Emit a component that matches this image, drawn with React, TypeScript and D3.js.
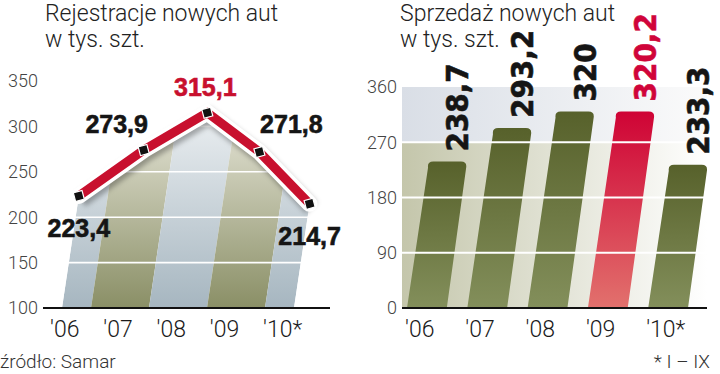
import React, { Component } from 'react';
import * as d3 from 'd3';

const years = ["'06", "'07", "'08", "'09", "'10*"];
const registrations = [223.4, 273.9, 315.1, 271.8, 214.7];
const sales = [238.7, 293.2, 320, 320.2, 233.3];
const registrationTicks = [100, 150, 200, 250, 300, 350];
const salesTicks = [0, 90, 180, 270, 360];
const registrationPeak = "'08";
const salesPeak = "'09";

// where each registration label sits around its point
const labelSide = ['below', 'left', 'above', 'right', 'below'];
const sideOffset = { below: [0, 41], left: [-27, -17], above: [-2, -17], right: [32, -19] };

const RED = '#c8102e';
const lightFont = 'Roboto, sans-serif';
const boldFont = '"Liberation Sans", Arial, sans-serif';
const narrowFont = '"Liberation Sans Narrow", "DejaVu Sans Condensed", sans-serif';

const comma = (v) => String(v).replace('.', ',');

class App extends Component {
    constructor(props) {
        super(props);
        this.chRef = React.createRef();
    }

    componentDidMount() {
        this.drawChart();
    }

    drawChart() {
        const svg = d3.select(this.chRef.current);
        svg.selectAll('*').remove();
        const defs = svg.append('defs');
        const base = 308;

        const grad = (id, c1, c2, x1, y1, x2, y2, user = true) => {
            const g = defs.append('linearGradient').attr('id', id)
                .attr('x1', x1).attr('y1', y1).attr('x2', x2).attr('y2', y2);
            if (user) g.attr('gradientUnits', 'userSpaceOnUse');
            g.append('stop').attr('offset', 0).attr('stop-color', c1);
            g.append('stop').attr('offset', 1).attr('stop-color', c2);
        };

        // titles
        [[45, 'Rejestracje nowych aut'], [400, 'Sprzedaż nowych aut']].forEach(([x, t]) => {
            const txt = svg.append('text').attr('x', x).attr('y', 21)
                .style('font-family', lightFont).style('font-weight', 300)
                .style('font-size', '23px').style('fill', '#222');
            txt.append('tspan').attr('x', x).text(t);
            txt.append('tspan').attr('x', x).attr('y', 47).text('w tys. szt.');
        });

        // ---------- left: registrations ----------
        const yL = d3.scaleLinear().domain([100, 350]).range([base, 81]);
        const xL = d3.scalePoint().domain(years).range([62, 294]);
        const kL = 0.15;
        const pts = registrations.map((v, i) => [xL(years[i]) + kL * (base - yL(v)), yL(v)]);
        const area = [[xL(years[0]), base], ...pts, [xL(years[4]), base]];
        defs.append('clipPath').attr('id', 'regArea')
            .append('path').attr('d', d3.line()(area) + 'Z');

        grad('bandBlue', '#a6b6c0', '#eff2f4', 0, base, 0, 100);
        grad('bandOlive', '#8a8f66', '#ecebe0', 0, base, 0, 100);

        const centers = years.map(y => xL(y));
        const edges = [centers[0], ...d3.pairs(centers).map(([a, b]) => (a + b) / 2), centers[4]];
        const H = 260;
        svg.append('g').attr('clip-path', 'url(#regArea)')
            .selectAll('path')
            .data(d3.pairs(edges))
            .join('path')
            .attr('d', ([a, b]) => d3.line()([[a, base], [b, base], [b + kL * H, base - H], [a + kL * H, base - H]]) + 'Z')
            .attr('fill', (d, i) => i % 2 ? 'url(#bandOlive)' : 'url(#bandBlue)');

        svg.append('g').selectAll('line')
            .data(registrationTicks.slice(1, -1))
            .join('line')
            .attr('x1', 43).attr('x2', 330)
            .attr('y1', d => yL(d)).attr('y2', d => yL(d))
            .attr('stroke', '#fff').attr('stroke-width', 1.6);

        svg.append('line').attr('x1', 43).attr('x2', 330).attr('y1', base).attr('y2', base)
            .attr('stroke', '#111').attr('stroke-width', 2);

        svg.append('g').selectAll('text')
            .data(registrationTicks)
            .join('text')
            .attr('x', 38).attr('y', d => yL(d)).attr('dy', '0.36em')
            .attr('text-anchor', 'end')
            .style('font-family', lightFont).style('font-weight', 300)
            .style('font-size', '18px').style('fill', '#444')
            .text(d => d);

        const xLabL = d3.scalePoint().domain(years).range([50, 263]);
        svg.append('g').selectAll('text')
            .data(years)
            .join('text')
            .attr('x', d => xLabL(d)).attr('y', 337)
            .style('font-family', lightFont).style('font-weight', 300)
            .style('font-size', '23px').style('fill', '#1a1a1a')
            .text(d => d);

        // line with white rim and soft shadow
        const shadow = defs.append('filter').attr('id', 'shadow')
            .attr('x', '-20%').attr('y', '-20%').attr('width', '140%').attr('height', '140%');
        shadow.append('feGaussianBlur').attr('stdDeviation', 2.5);
        const linePath = d3.line()(pts);
        svg.append('path').attr('d', linePath).attr('fill', 'none')
            .attr('stroke', '#000').attr('stroke-opacity', 0.3).attr('stroke-width', 16)
            .attr('stroke-linejoin', 'miter').attr('transform', 'translate(2,4)')
            .attr('filter', 'url(#shadow)');
        svg.append('path').attr('d', linePath).attr('fill', 'none')
            .attr('stroke', '#fff').attr('stroke-width', 16)
            .attr('stroke-linejoin', 'miter').attr('stroke-linecap', 'round');
        svg.append('path').attr('d', linePath).attr('fill', 'none')
            .attr('stroke', RED).attr('stroke-width', 9)
            .attr('stroke-linejoin', 'miter');

        svg.append('g').selectAll('rect')
            .data(pts)
            .join('rect')
            .attr('x', -4.5).attr('y', -4.5).attr('width', 9).attr('height', 9)
            .attr('transform', d => `translate(${d[0]},${d[1]}) rotate(-15)`)
            .attr('fill', '#111').attr('stroke', '#fff').attr('stroke-width', 1.2);

        svg.append('g').selectAll('text')
            .data(registrations)
            .join('text')
            .attr('x', (d, i) => pts[i][0] + sideOffset[labelSide[i]][0])
            .attr('y', (d, i) => pts[i][1] + sideOffset[labelSide[i]][1])
            .attr('text-anchor', 'middle')
            .style('font-family', boldFont).style('font-weight', 700)
            .style('font-size', '25px')
            .style('fill', (d, i) => years[i] === registrationPeak ? RED : '#151515')
            .style('stroke', (d, i) => years[i] === registrationPeak ? RED : '#151515')
            .style('stroke-width', 0.6)
            .text(d => comma(d));

        // ---------- right: sales ----------
        const yR = d3.scaleLinear().domain([0, 360]).range([base, 87]);
        const xR = d3.scaleBand().domain(years).range([407, 688]).paddingInner(0.34);
        const kR = 0.138;
        const plotL = 402, plotR = 707;

        grad('bgTop', '#d9dee6', '#fbfbfb', plotL, 0, plotR, 0);
        grad('bgBottom', '#c4c6ab', '#ffffff', plotL, 0, plotR, 0);
        grad('barOlive', '#57612b', '#838f5b', 0, 0, 0, 1, false);
        grad('barRed', '#cf0335', '#e2716d', 0, 0, 0, 1, false);

        svg.append('rect').attr('x', plotL).attr('width', plotR - plotL)
            .attr('y', yR(360)).attr('height', yR(270) - yR(360)).attr('fill', 'url(#bgTop)');
        svg.append('rect').attr('x', plotL).attr('width', plotR - plotL)
            .attr('y', yR(270)).attr('height', base - yR(270)).attr('fill', 'url(#bgBottom)');

        const barPath = (x0, w, yt) => {
            const dx = kR * (base - yt), r = 6;
            return `M${x0},${base} L${x0 + w},${base} L${x0 + w + dx - kR * r},${yt + r} ` +
                `Q${x0 + w + dx},${yt} ${x0 + w + dx - r},${yt} L${x0 + dx + r},${yt} ` +
                `Q${x0 + dx},${yt} ${x0 + dx + kR * r},${yt + r} Z`;
        };

        svg.append('g').selectAll('path')
            .data(sales)
            .join('path')
            .attr('d', (d, i) => barPath(xR(years[i]), xR.bandwidth(), yR(d)))
            .attr('fill', (d, i) => years[i] === salesPeak ? 'url(#barRed)' : 'url(#barOlive)');

        svg.append('g').selectAll('line')
            .data(salesTicks.slice(1, -1))
            .join('line')
            .attr('x1', plotL).attr('x2', plotR)
            .attr('y1', d => yR(d)).attr('y2', d => yR(d))
            .attr('stroke', '#fff').attr('stroke-width', 2);

        svg.append('line').attr('x1', plotL).attr('x2', plotR).attr('y1', base).attr('y2', base)
            .attr('stroke', '#111').attr('stroke-width', 2);

        svg.append('g').selectAll('text')
            .data(salesTicks)
            .join('text')
            .attr('x', 397).attr('y', d => yR(d)).attr('dy', '0.36em')
            .attr('text-anchor', 'end')
            .style('font-family', lightFont).style('font-weight', 300)
            .style('font-size', '18px').style('fill', '#444')
            .text(d => d);

        svg.append('g').selectAll('text')
            .data(years)
            .join('text')
            .attr('x', d => xR(d) - 2).attr('y', 337)
            .style('font-family', lightFont).style('font-weight', 300)
            .style('font-size', '23px').style('fill', '#1a1a1a')
            .text(d => d);

        svg.append('g').selectAll('text')
            .data(sales)
            .join('text')
            .attr('transform', (d, i) => {
                const yt = yR(d);
                const x = xR(years[i]) + xR.bandwidth() + kR * (base - yt) + 1;
                return `translate(${x},${yt - 10}) rotate(-90)`;
            })
            .style('font-family', narrowFont).style('font-weight', 700)
            .style('font-size', '31px')
            .style('fill', (d, i) => years[i] === salesPeak ? '#d0043a' : '#151515')
            .style('stroke', (d, i) => years[i] === salesPeak ? '#d0043a' : '#151515')
            .style('stroke-width', 0.6)
            .text(d => comma(d));

        // footer
        svg.append('text').attr('x', 0).attr('y', 368)
            .style('font-family', lightFont).style('font-weight', 300)
            .style('font-size', '19px').style('fill', '#333')
            .text('źródło: Samar');
        svg.append('text').attr('x', 710).attr('y', 368).attr('text-anchor', 'end')
            .style('font-family', lightFont).style('font-weight', 300)
            .style('font-size', '19px').style('fill', '#333')
            .text('* I – IX');
    }

    render() {
        return (
            <svg ref={this.chRef} width={720} height={374}
                style={{ position: 'absolute', left: 0, top: 0, background: '#fff' }} />
        );
    }
}

export default App;
